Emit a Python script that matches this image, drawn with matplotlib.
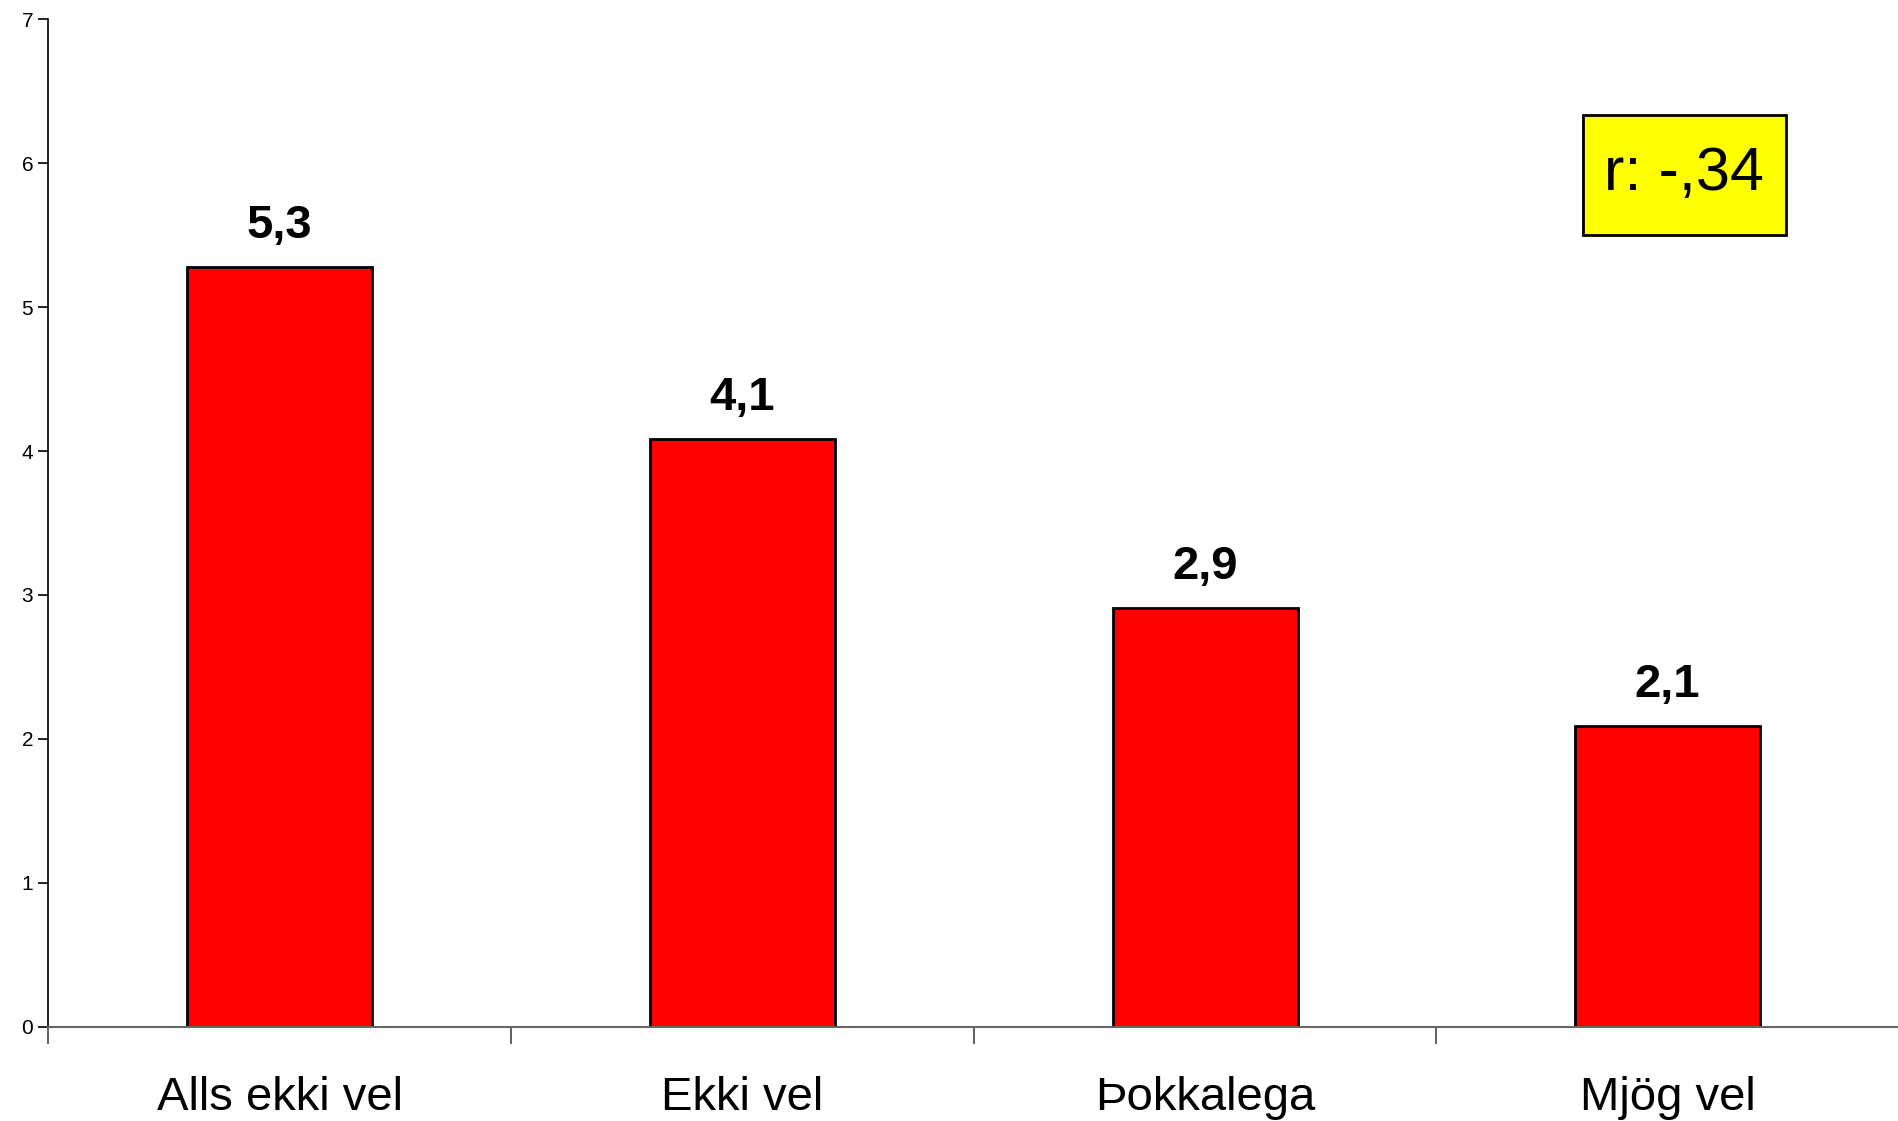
import matplotlib.pyplot as plt
from matplotlib.patches import Rectangle
import numpy as np

plt.rcParams['font.family'] = ['Liberation Sans', 'DejaVu Sans']

categories = ['Alls ekki vel', 'Ekki vel', 'Þokkalega', 'Mjög vel']
values = [5.28, 4.08, 2.91, 2.09]
value_labels = ['5,3', '4,1', '2,9', '2,1']
r_text = 'r: -,34'

fig = plt.figure(figsize=(18.99, 11.21), dpi=100)
ax = fig.add_axes([0.0255, 0.0839, 0.9745, 0.8991])

x = np.arange(len(categories))
bars = ax.bar(x, values, width=0.4, color='#ff0000', edgecolor='black', linewidth=2, zorder=2)

for b, lab in zip(bars, value_labels):
    ax.annotate(lab, (b.get_x() + b.get_width() / 2, b.get_height()),
                xytext=(0, 21), textcoords='offset points',
                ha='center', va='baseline', fontsize=34, fontweight='bold')

ax.set_xlim(-0.5, len(categories) - 0.5)
ax.set_ylim(0, 7)
ax.set_yticks(range(8))
ax.tick_params(axis='y', labelsize=15, length=7, width=1.2, direction='out', pad=4)

# category labels between the boundary ticks
ax.set_xticks(np.arange(len(categories) + 1) - 0.5)
ax.set_xticklabels([])
ax.set_xticks(x, minor=True)
ax.set_xticklabels(categories, minor=True)
ax.tick_params(axis='x', which='major', length=12, width=1.2, color='#444444')
ax.tick_params(axis='x', which='minor', length=0, labelsize=34, pad=35)

for s in ['top', 'right']:
    ax.spines[s].set_visible(False)
ax.spines['left'].set_linewidth(1.2)
ax.spines['bottom'].set_color('#666666')
ax.spines['bottom'].set_linewidth(1.5)

# yellow correlation box
ax.add_patch(Rectangle((0.829, 0.786), 0.110, 0.119, transform=ax.transAxes,
                       facecolor='#ffff00', edgecolor='black', linewidth=2, zorder=3))
ax.text(0.884, 0.8455, r_text, transform=ax.transAxes, fontsize=44,
        ha='center', va='center', zorder=4)

fig.savefig('out.png', dpi=100)
